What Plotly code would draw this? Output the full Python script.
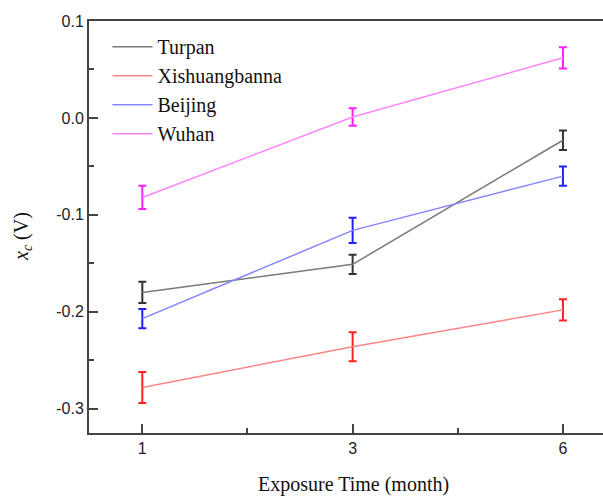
import plotly.graph_objects as go

months = ['1', '3', '6']
xpos = [0, 1, 2]

series_names = ['Turpan', 'Xishuangbanna', 'Beijing', 'Wuhan']
turpan = [-0.180, -0.151, -0.023]
turpan_err = [0.011, 0.010, 0.010]
xishuang = [-0.278, -0.236, -0.198]
xishuang_err = [0.016, 0.015, 0.011]
beijing = [-0.207, -0.116, -0.060]
beijing_err = [0.010, 0.013, 0.010]
wuhan = [-0.082, 0.001, 0.062]
wuhan_err = [0.012, 0.009, 0.011]

yticks = [0.1, 0.0, -0.1, -0.2, -0.3]
ytick_text = ['0.1', '0.0', '-0.1', '-0.2', '-0.3']

values = [turpan, xishuang, beijing, wuhan]
errors = [turpan_err, xishuang_err, beijing_err, wuhan_err]
line_colors = ['#7a7a7a', '#ff8585', '#8585ff', '#ff85ff']
bar_colors = ['#333333', '#ff2020', '#2020ff', '#ff20ff']

fig = go.Figure()
for name, y, e, lc, bc in zip(series_names, values, errors, line_colors, bar_colors):
    fig.add_trace(go.Scatter(
        x=xpos, y=y, name=name, mode='lines',
        line=dict(color=lc, width=1.5),
        legendgroup=name,
        error_y=dict(type='data', array=e, visible=True,
                     color=bc, thickness=2, width=4),
    ))

serif = 'Liberation Serif, Times New Roman'
axis_color = '#444444'

# the plot frame runs past the right edge of the window in the original,
# so the figure is a bit wider than the page and the overflow is hidden
fig.update_layout(
    width=617, height=497,
    margin=dict(l=89, r=0, t=21, b=64),
    plot_bgcolor='white', paper_bgcolor='white',
    font=dict(family='Liberation Sans, Arial', size=16, color='#222222'),
    legend=dict(
        x=0.035, y=0.985, xanchor='left', yanchor='top',
        bgcolor='rgba(0,0,0,0)',
        font=dict(family=serif, size=20, color='#111111'),
        tracegroupgap=0, itemwidth=40,
    ),
    xaxis=dict(
        range=[-0.2535, 2.257],
        tickmode='array', tickvals=xpos, ticktext=months,
        ticks='inside', ticklen=9, tickwidth=2, tickcolor=axis_color,
        showline=True, linewidth=2, linecolor=axis_color, mirror=True,
        showgrid=False, zeroline=False,
        minor=dict(tickvals=[0.5, 1.5], ticks='inside', ticklen=5,
                   tickwidth=2, tickcolor=axis_color, showgrid=False),
    ),
    yaxis=dict(
        range=[-0.325, 0.1],
        tickmode='array', tickvals=yticks, ticktext=ytick_text,
        ticks='inside', ticklen=9, tickwidth=2, tickcolor=axis_color,
        showline=True, linewidth=2, linecolor=axis_color,
        showgrid=False, zeroline=False,
        minor=dict(tickvals=[0.05, -0.05, -0.15, -0.25], ticks='inside', ticklen=5,
                   tickwidth=2, tickcolor=axis_color, showgrid=False),
    ),
    annotations=[
        dict(text='Exposure Time (month)', xref='paper', yref='paper',
             x=0.5, y=-0.126, xanchor='center', yanchor='middle', showarrow=False,
             font=dict(family=serif, size=20, color='#111111')),
        dict(text='<i>x<sub>c</sub></i> (V)', xref='paper', yref='paper',
             x=-0.127, y=0.478, xanchor='center', yanchor='middle', showarrow=False,
             textangle=-90, font=dict(family=serif, size=20, color='#111111')),
    ],
)

page_css = (
    "document.body.style.margin='0';"
    "document.body.style.overflow='hidden';"
    "document.documentElement.style.overflow='hidden';"
)
fig.write_html('out.html', post_script=page_css, config={'displayModeBar': False})
